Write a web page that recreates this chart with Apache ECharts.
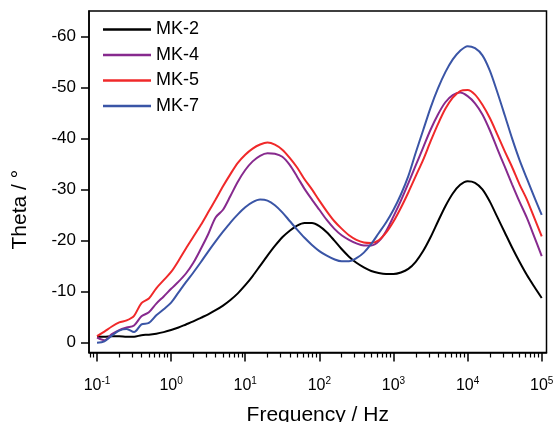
<!DOCTYPE html>
<html>
<head>
<meta charset="utf-8">
<script src="https://cdn.jsdelivr.net/npm/echarts@6/dist/echarts.min.js"></script>
<style>
html,body{margin:0;padding:0;background:#fff;}
#chart{width:554px;height:422px;}
</style>
</head>
<body>
<div id="chart"></div>
<script>
// Frequency (Hz) sample points (10 per decade)
const freq = [0.1, 0.1259, 0.1585, 0.1995, 0.2512, 0.3162, 0.3981, 0.5012, 0.631, 0.7943,
  1, 1.259, 1.585, 1.995, 2.512, 3.162, 3.981, 5.012, 6.31, 7.943,
  10, 12.59, 15.85, 19.95, 25.12, 31.62, 39.81, 50.12, 63.1, 79.43,
  100, 125.9, 158.5, 199.5, 251.2, 316.2, 398.1, 501.2, 631, 794.3,
  1000, 1259, 1585, 1995, 2512, 3162, 3981, 5012, 6310, 7943,
  10000, 12589, 15849, 19953, 25119, 31623, 39811, 50119, 63096, 79433,
  100000];

const mk2 = [-1.1, -1.1, -1.2, -1.2, -1.1, -1.1, -1.4, -1.5, -1.7, -2.0,
  -2.4, -2.9, -3.5, -4.1, -4.8, -5.5, -6.3, -7.2, -8.3, -9.6,
  -11.2, -13.0, -15.0, -17.0, -18.9, -20.6, -21.9, -22.9, -23.4, -23.4,
  -22.8, -21.6, -20.0, -18.3, -16.8, -15.6, -14.7, -14.0, -13.6, -13.4,
  -13.4, -13.7, -14.4, -15.8, -17.9, -20.6, -23.7, -26.7, -29.2, -30.9,
  -31.6, -31.3, -30.0, -27.6, -24.6, -21.6, -18.6, -15.8, -13.2, -10.9,
  -8.7];

const mk4 = [-0.9, -0.4, -1.6, -2.4, -2.9, -3.3, -5.1, -5.9, -7.6, -9.0,
  -10.5, -11.9, -13.5, -15.6, -18.3, -21.2, -24.5, -26.0, -28.7, -31.5,
  -33.8, -35.5, -36.6, -37.1, -37.0, -36.4, -34.8, -32.5, -30.1, -28.0,
  -26.0, -24.0, -22.3, -21.0, -20.1, -19.4, -19.0, -19.0, -19.8, -21.8,
  -24.7, -27.8, -31.2, -34.7, -38.2, -41.7, -44.7, -47.1, -48.5, -49.0,
  -48.3, -46.9, -44.7, -41.6, -38.0, -34.5, -31.0, -27.6, -24.4, -20.7,
  -16.9];

const mk5 = [-1.2, -2.1, -3.1, -3.9, -4.3, -5.2, -7.7, -8.6, -10.6, -12.2,
  -13.8, -16.0, -18.4, -20.7, -23.0, -25.5, -28.0, -30.6, -33.0, -35.2,
  -36.8, -38.0, -38.8, -39.2, -38.8, -37.8, -36.2, -34.3, -32.0, -30.0,
  -27.8, -25.7, -23.8, -22.3, -21.0, -20.1, -19.6, -19.5, -20.0, -21.5,
  -23.7, -26.4, -29.4, -32.6, -35.8, -39.4, -42.8, -45.8, -48.0, -49.3,
  -49.5, -48.6, -46.6, -44.0, -40.8, -37.5, -34.4, -31.0, -28.0, -24.4,
  -20.8];

const mk7 = [0.1, -0.2, -1.3, -2.3, -2.6, -2.0, -3.5, -3.8, -5.3, -6.5,
  -7.8, -9.8, -11.8, -13.7, -15.7, -17.8, -19.8, -21.7, -23.5, -25.1,
  -26.5, -27.5, -28.0, -27.8, -26.9, -25.5, -23.8, -22.1, -20.5, -19.1,
  -17.9, -17.0, -16.3, -15.9, -15.9, -16.5, -17.6, -19.3, -21.4, -23.5,
  -26.0, -29.0, -32.6, -37.2, -41.6, -46.0, -49.8, -53.0, -55.5, -57.2,
  -58.1, -57.7, -56.3, -53.3, -49.1, -44.6, -40.0, -35.8, -32.1, -28.5,
  -25.0];

const seriesNames = ['MK-2', 'MK-4', 'MK-5', 'MK-7'];
const seriesColors = ['#000000', '#872a8e', '#f0292a', '#3a55a6'];
const xMajorTicks = [0.1, 1, 10, 100, 1000, 10000, 100000];
const yTicks = [0, -10, -20, -30, -40, -50, -60];

const xMinorTicks = [0.08, 0.09];
for (let d = 0.1; d < 100000; d *= 10) {
  for (let m = 2; m <= 9; m++) xMinorTicks.push(+(m * d).toPrecision(3));
}

const allData = [mk2, mk4, mk5, mk7];
const FONT = '"Liberation Sans", Arial, sans-serif';
const GRID = { left: 89, right: 7.5, top: 11, bottom: 69.5 };
const gridHeight = 422 - GRID.top - GRID.bottom;

const chart = echarts.init(document.getElementById('chart'));
chart.setOption({
  animation: false,
  backgroundColor: '#fff',
  textStyle: { fontFamily: FONT },
  grid: Object.assign({
    show: true, borderColor: '#000', borderWidth: 1.5, backgroundColor: 'transparent',
    containLabel: false, outerBoundsMode: 'none'
  }, GRID),
  legend: {
    orient: 'vertical',
    left: 98, top: 14.5,
    icon: 'rect',
    itemWidth: 48, itemHeight: 2.5,
    itemGap: 5.5,
    textStyle: { fontSize: 18, color: '#000', fontFamily: FONT, lineHeight: 20 },
    data: seriesNames
  },
  xAxis: [{
    type: 'log', logBase: 10,
    min: 0.078, max: 116000,
    name: 'Frequency / Hz', nameLocation: 'middle', nameGap: 52,
    nameTextStyle: { fontSize: 21, color: '#000', fontFamily: FONT },
    axisLine: { show: true, onZero: false, lineStyle: { color: '#000', width: 1.5 } },
    axisTick: { show: true, customValues: xMajorTicks, length: 9, lineStyle: { color: '#000', width: 1.5 } },
    axisLabel: {
      customValues: xMajorTicks, margin: 24, color: '#000',
      formatter: function (v) {
        const e = Math.round(Math.log10(v));
        return '{b|10}{s|' + e + '}';
      },
      rich: {
        b: { fontSize: 16, lineHeight: 18, color: '#000', fontFamily: FONT },
        s: { fontSize: 10, lineHeight: 18, verticalAlign: 'top', color: '#000', fontFamily: FONT }
      }
    },
    splitLine: { show: false }
  }, {
    // minor ticks: a top axis shifted down onto the bottom edge, ticks pointing down
    type: 'log', logBase: 10, position: 'top', offset: -gridHeight,
    min: 0.078, max: 116000,
    axisLine: { show: false, onZero: false },
    axisTick: { show: true, inside: true, customValues: xMinorTicks, length: 5, lineStyle: { color: '#000', width: 1.2 } },
    axisLabel: { show: false },
    splitLine: { show: false }
  }],
  yAxis: {
    type: 'value', inverse: true,
    min: -65, max: 2,
    name: 'Theta / °', nameLocation: 'middle', nameGap: 58,
    nameTextStyle: { fontSize: 21, color: '#000', fontFamily: FONT, padding: [0, 56, 0, 0] },
    axisLine: { show: true, onZero: false, lineStyle: { color: '#000', width: 1.5 } },
    axisTick: { show: true, customValues: yTicks, length: 8, lineStyle: { color: '#000', width: 1.5 } },
    axisLabel: { customValues: yTicks, margin: 13, fontSize: 17, color: '#000', fontFamily: FONT },
    splitLine: { show: false }
  },
  series: seriesNames.map(function (n, i) {
    return {
      name: n, type: 'line', xAxisIndex: 0,
      data: freq.map(function (f, j) { return [f, allData[i][j]]; }),
      showSymbol: false, smooth: 0.3,
      lineStyle: { color: seriesColors[i], width: 2 },
      itemStyle: { color: seriesColors[i] }
    };
  })
});
</script>
</body>
</html>
